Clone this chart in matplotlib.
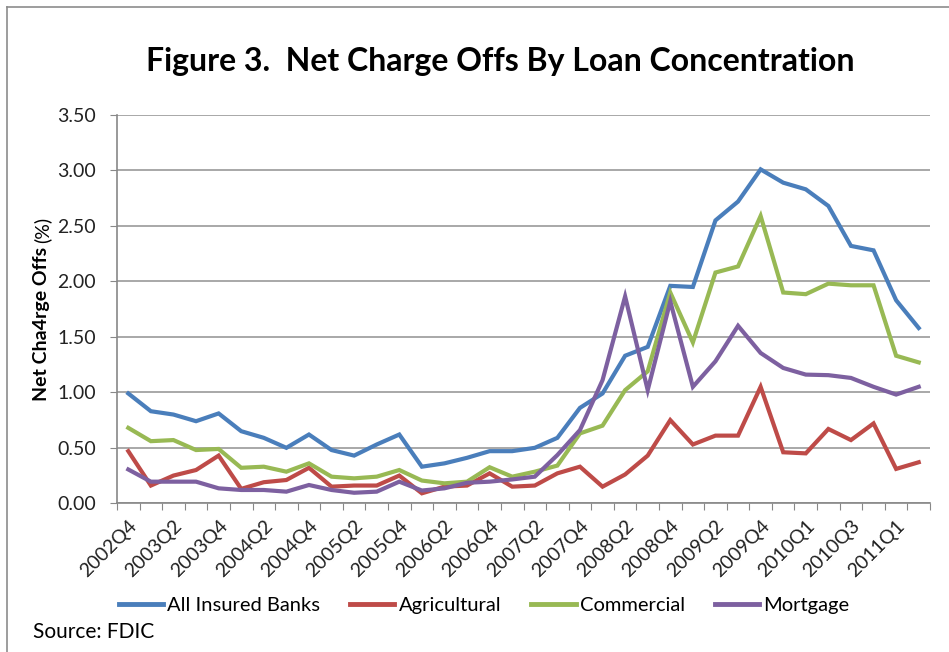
import matplotlib
matplotlib.use("Agg")
import matplotlib.pyplot as plt
from matplotlib.lines import Line2D
import numpy as np

# ---- data ----
tick_labels = ["2002Q4", "2003Q2", "2003Q4", "2004Q2", "2004Q4", "2005Q2", "2005Q4",
               "2006Q2", "2006Q4", "2007Q2", "2007Q4", "2008Q2", "2008Q4", "2009Q2",
               "2009Q4", "2010Q1", "2010Q3", "2011Q1"]
n_quarters = 36

all_banks = [0.99, 0.83, 0.80, 0.74, 0.81, 0.65, 0.59, 0.50, 0.62, 0.48, 0.43, 0.53,
             0.62, 0.33, 0.36, 0.41, 0.47, 0.47, 0.50, 0.59, 0.86, 0.99, 1.33, 1.41,
             1.96, 1.95, 2.55, 2.72, 3.01, 2.89, 2.83, 2.68, 2.32, 2.28, 1.83, 1.58]
agricultural = [0.47, 0.16, 0.25, 0.30, 0.43, 0.13, 0.19, 0.21, 0.32, 0.15, 0.16, 0.16,
                0.25, 0.09, 0.15, 0.16, 0.27, 0.15, 0.16, 0.27, 0.33, 0.15, 0.26, 0.43,
                0.75, 0.53, 0.61, 0.61, 1.05, 0.46, 0.45, 0.67, 0.57, 0.72, 0.31, 0.37]
commercial = [0.68, 0.56, 0.57, 0.48, 0.49, 0.32, 0.33, 0.285, 0.36, 0.24, 0.225, 0.24,
              0.30, 0.205, 0.18, 0.195, 0.325, 0.24, 0.285, 0.34, 0.63, 0.70, 1.02, 1.19,
              1.90, 1.45, 2.08, 2.135, 2.59, 1.90, 1.885, 1.98, 1.965, 1.965, 1.33, 1.27]
mortgage = [0.305, 0.195, 0.195, 0.195, 0.135, 0.12, 0.12, 0.105, 0.165, 0.12, 0.095, 0.105,
            0.195, 0.115, 0.135, 0.185, 0.195, 0.215, 0.24, 0.435, 0.66, 1.11, 1.865, 1.02,
            1.82, 1.05, 1.28, 1.60, 1.355, 1.22, 1.16, 1.155, 1.13, 1.05, 0.98, 1.05]

series_names = ["All Insured Banks", "Agricultural", "Commercial", "Mortgage"]
series_colors = ["#4A7EBB", "#BE4B48", "#98B954", "#7D60A0"]

plt.rcParams['font.family'] = ['Lato', 'DejaVu Sans']

fig = plt.figure(figsize=(9.49, 6.52), dpi=100)
ax = fig.add_axes([117/949, 1-503.3/652, (930-117)/949, (503.3-115)/652])

x = np.arange(n_quarters)
for vals, name, col in zip([all_banks, agricultural, commercial, mortgage], series_names, series_colors):
    ax.plot(x, vals, color=col, lw=3.0, label=name, solid_joinstyle='miter', zorder=3)

ax.set_xlim(-0.5, n_quarters - 0.5)
ax.set_ylim(0, 3.5)
ax.set_yticks(np.arange(0, 3.51, 0.5))
ax.set_yticklabels([f"{v:.2f}" for v in np.arange(0, 3.51, 0.5)], fontsize=14, color="#222222")
ax.yaxis.grid(True, color="#9a9a9a", lw=1.2)
ax.set_axisbelow(True)

ax.set_xticks(np.arange(-0.5, n_quarters, 1.0))
ax.set_xticklabels([])
ax.set_xticks(np.arange(0, n_quarters, 2), minor=True)
ax.set_xticklabels(tick_labels, minor=True, rotation=45, ha='right', rotation_mode='anchor',
                   fontsize=14, color="#222222")
ax.tick_params(axis='x', which='major', length=5, color="#888888", direction='out')
ax.tick_params(axis='x', which='minor', length=0, pad=10)
ax.tick_params(axis='y', length=5, color="#888888", pad=10)

for s in ['top', 'right']:
    ax.spines[s].set_visible(False)
for s in ['left', 'bottom']:
    ax.spines[s].set_color("#888888")
    ax.spines[s].set_linewidth(1.2)

fig.text(500/949, 1-62/652, "Figure 3.  Net Charge Offs By Loan Concentration",
         ha='center', va='center', fontsize=23, fontweight='bold')

yl = fig.text(42/949, 1-401/652, "Net Cha4rge Offs", rotation=90, ha='center', va='bottom',
              fontsize=14, fontweight='bold')
fig.canvas.draw()
bb = yl.get_window_extent()
fig.text(42/949, (bb.y1 + 4)/652, "(%)", rotation=90, ha='center', va='bottom', fontsize=14)

handles = [Line2D([], [], color=c, lw=3.5) for c in series_colors]
fig.legend(handles, series_names, loc='center', bbox_to_anchor=(484/949, 1-605/652), ncol=4,
           frameon=False, fontsize=14.5, handlelength=2.2, handletextpad=0.2, columnspacing=1.5,
           borderpad=0, borderaxespad=0)

fig.text(33/949, 1-632/652, "Source: FDIC", ha='left', va='center', fontsize=15)

# chart area border (top and left visible)
fig.add_artist(Line2D([7/949, 1], [1-7/652, 1-7/652], color="#8c8c8c", lw=1.2))
fig.add_artist(Line2D([7/949, 7/949], [0, 1-7/652], color="#8c8c8c", lw=1.2))

fig.savefig("out.png", dpi=100)
